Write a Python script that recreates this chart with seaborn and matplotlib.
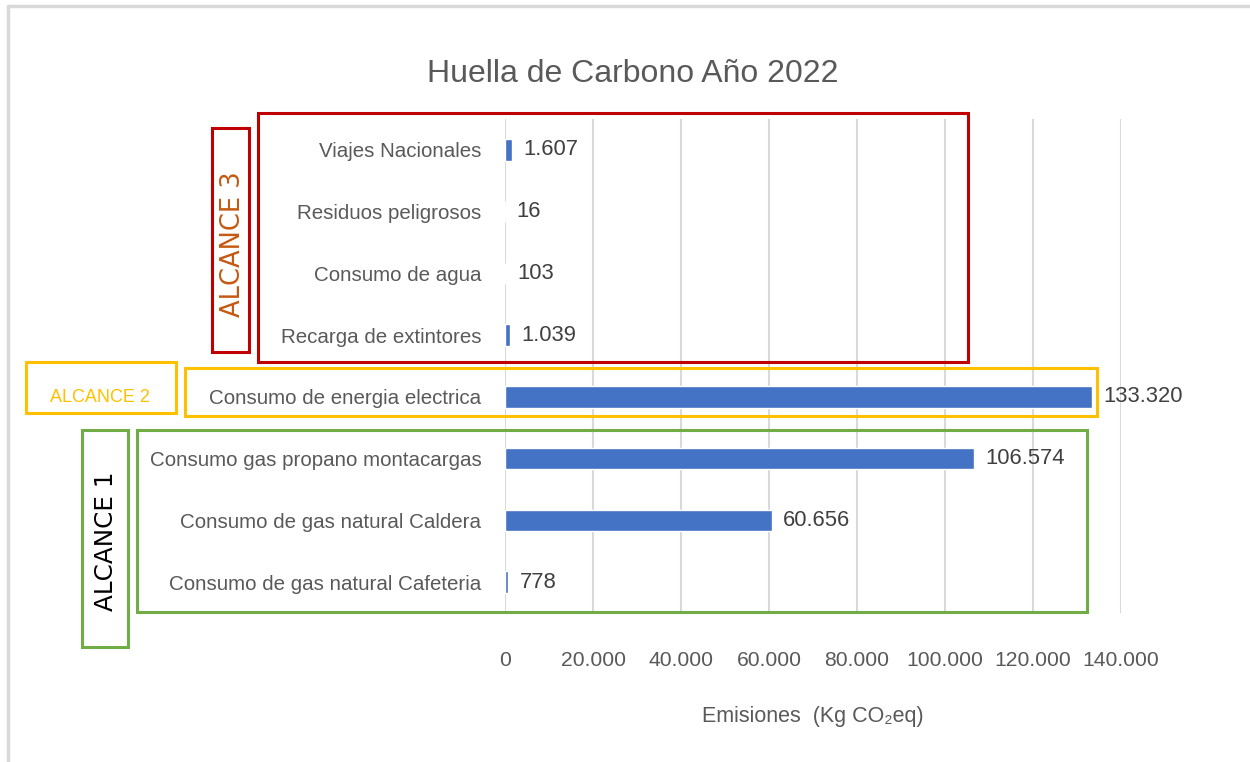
import pandas as pd
import matplotlib.pyplot as plt
import seaborn as sns
from matplotlib.patches import Rectangle
from matplotlib.lines import Line2D

# data (top to bottom)
categories = [
    "Viajes Nacionales",
    "Residuos peligrosos",
    "Consumo de agua",
    "Recarga de extintores",
    "Consumo de energia electrica",
    "Consumo gas propano montacargas",
    "Consumo de gas natural Caldera",
    "Consumo de gas natural Cafeteria",
]
emissions = [1607, 16, 103, 1039, 133320, 106574, 60656, 778]
x_ticks = [0, 20000, 40000, 60000, 80000, 100000, 120000, 140000]

sns.set_theme(style="white")
plt.rcParams["font.family"] = ["Liberation Sans", "DejaVu Sans"]

GRAY = "#595959"
BLUE = "#4472C4"


def fmt(v):
    return f"{v:,}".replace(",", ".")


df = pd.DataFrame({"categoria": categories, "emisiones": emissions})

fig = plt.figure(figsize=(12.5, 7.62), dpi=100)
ax = fig.add_axes([0.404, 0.1955, 0.4928, 0.6483])

sns.barplot(data=df, x="emisiones", y="categoria", orient="h", color=BLUE,
            width=0.35, ax=ax, saturation=1)

ax.set_xlim(0, 140000)
ax.set_xticks(x_ticks)
ax.set_xticklabels([fmt(t) for t in x_ticks], fontsize=15.2, color=GRAY)
ax.tick_params(axis="x", length=0, pad=27)
ax.tick_params(axis="y", length=0, pad=17, labelsize=14.8, labelcolor=GRAY)
ax.set_ylabel("")
ax.set_xlabel("Emisiones  (Kg CO₂eq)", fontsize=15.5, color=GRAY, labelpad=26)
ax.grid(axis="x", color="#D9D9D9", linewidth=1.5)
ax.set_axisbelow(True)
for s in ax.spines.values():
    s.set_visible(False)

for i, v in enumerate(emissions):
    ax.text(v + 2600, i, fmt(v), va="center", ha="left", fontsize=15.8, color="#404040")

fig.text(0.506, 0.903, "Huella de Carbono Año 2022", ha="center", va="center",
         fontsize=23, color=GRAY)


def box(x0, y0, x1, y1, color, lw=2.2):
    fig.patches.append(Rectangle((x0 / 1250, 1 - y1 / 762), (x1 - x0) / 1250, (y1 - y0) / 762,
                                 transform=fig.transFigure, fill=False, edgecolor=color,
                                 linewidth=lw, zorder=5))


# scope annotation boxes
box(258, 113, 968, 362, "#C00000")
box(212, 128, 249, 352, "#C00000")
fig.text(233 / 1250, 1 - 244 / 762, "ALCANCE 3", rotation=90, ha="center", va="center",
         fontsize=18.5, color="#C55A11", family=["DejaVu Sans"])

box(185, 368, 1097, 416, "#FFC000")
box(26, 362, 176, 413, "#FFC000")
fig.text(100 / 1250, 1 - 398 / 762, "ALCANCE 2", ha="center", va="center",
         fontsize=13, color="#FFC000")

box(137, 430, 1087, 612, "#70AD47")
box(82, 430, 128, 647, "#70AD47")
fig.text(106 / 1250, 1 - 541 / 762, "ALCANCE 1", rotation=90, ha="center", va="center",
         fontsize=17.7, color="black", family=["DejaVu Sans"])

# chart frame (only top and left edges show in the reference)
fig.lines.append(Line2D([8 / 1250, 1], [1 - 6 / 762, 1 - 6 / 762], transform=fig.transFigure,
                        color="#D9D9D9", linewidth=2.5))
fig.lines.append(Line2D([8 / 1250, 8 / 1250], [0, 1 - 6 / 762], transform=fig.transFigure,
                        color="#D9D9D9", linewidth=2.5))

fig.savefig("out.png", dpi=100)
